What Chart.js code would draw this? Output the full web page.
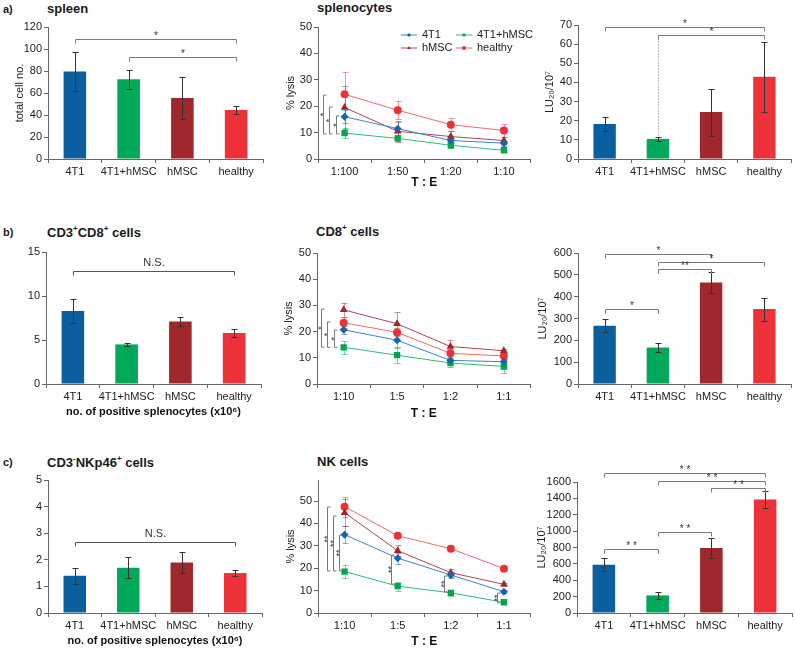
<!DOCTYPE html>
<html>
<head>
<meta charset="utf-8">
<script src="https://cdn.jsdelivr.net/npm/chart.js@4.4.0/dist/chart.umd.min.js"></script>
<style>
  body { margin: 0; background: #fff; width: 795px; height: 649px; position: relative; overflow: hidden; font-family: "Liberation Sans", Arial, sans-serif; color: #222; }
  canvas { position: absolute; }
  .lbl { position: absolute; font-weight: bold; white-space: nowrap; line-height: 1; color: #1a1a1a; }
  .tag { font-size: 11px; }
  .ttl { font-size: 13px; }
  .lbl sup { font-size: 8px; line-height: 0; position: relative; top: -1px; }
</style>
</head>
<body>
<div class="lbl tag" style="left:3px;top:4px">a)</div>
<div class="lbl ttl" style="left:47px;top:2px">spleen</div>
<div class="lbl ttl" style="left:317px;top:1px">splenocytes</div>
<div class="lbl tag" style="left:3px;top:227px">b)</div>
<div class="lbl ttl" style="left:47px;top:226px">CD3<sup>+</sup>CD8<sup>+</sup> cells</div>
<div class="lbl ttl" style="left:316px;top:225px">CD8<sup>+</sup> cells</div>
<div class="lbl tag" style="left:3px;top:457px">c)</div>
<div class="lbl ttl" style="left:47px;top:456px">CD3<sup>-</sup>NKp46<sup>+</sup> cells</div>
<div class="lbl ttl" style="left:317px;top:455px">NK cells</div>
<script>
// categories
const groups = ["4T1", "4T1+hMSC", "hMSC", "healthy"];
const ratiosSpleno = ["1:100", "1:50", "1:20", "1:10"];
const ratiosCells = ["1:10", "1:5", "1:2", "1:1"];

// a) spleen
const spleenCells = [79.5, 72.5, 55.5, 44.5];
const spleenCellsErr = [18, 8.5, 19.5, 4];
const splenoLysis4T1 = [16, 11.5, 7, 6];
const splenoLysis4T1Err = [2.5, 2.5, 1, 1];
const splenoLysisCo = [9.8, 7.8, 5.2, 3.3];
const splenoLysisCoErr = [1.8, 1, 1, 0.8];
const splenoLysisHMSC = [19.5, 10.5, 8.5, 7];
const splenoLysisHMSCErr = [8, 4, 2, 1.5];
const splenoLysisHealthy = [24.5, 18.5, 13, 10.8];
const splenoLysisHealthyErr = [8.5, 3.5, 2.5, 2.3];
const splenoLU = [18.3, 10.5, 24.5, 43];
const splenoLUErr = [3.5, 1.2, 12.3, 18.3];

// b) CD8+
const cd8Cells = [8.3, 4.5, 7.1, 5.8];
const cd8CellsErr = [1.35, 0.15, 0.5, 0.5];
const cd8Lysis4T1 = [20.7, 16.7, 9, 8.5];
const cd8Lysis4T1Err = [1.5, 2.5, 1, 1];
const cd8LysisCo = [14, 11, 8, 6.7];
const cd8LysisCoErr = [2.6, 2.8, 1.5, 2.5];
const cd8LysisHMSC = [28.3, 23, 14.3, 12.7];
const cd8LysisHMSCErr = [2.8, 4.3, 2.5, 0.5];
const cd8LysisHealthy = [23.4, 19.7, 11.7, 10.7];
const cd8LysisHealthyErr = [2, 1.5, 1.5, 1];
const cd8LU = [267, 167, 465, 343];
const cd8LUErr = [30, 20, 50, 53];

// c) NK
const nkCells = [1.4, 1.7, 1.9, 1.5];
const nkCellsErr = [0.3, 0.4, 0.4, 0.1];
const nkLysis4T1 = [35, 24.5, 17, 9.5];
const nkLysis4T1Err = [3.7, 2.5, 1.5, 0.6];
const nkLysisCo = [18.5, 12, 9, 4.8];
const nkLysisCoErr = [3, 2, 1.3, 0.6];
const nkLysisHMSC = [44.8, 27.8, 18, 12.8];
const nkLysisHMSCErr = [6, 2.5, 1.8, 0.6];
const nkLysisHealthy = [47.5, 34.5, 28.7, 19.8];
const nkLysisHealthyErr = [4.5, 0.6, 0.8, 0.6];
const nkLU = [590, 215, 795, 1385];
const nkLUErr = [80, 45, 120, 100];

// significance marks (value space)
const sigSpleenCells = [{ a: 0, b: 3, y: 109, label: "*" }, { a: 1, b: 3, y: 93, label: "*" }];
const sigSplenoLysis = [
  { cat: 0, dx: -22, lo: 9.5, hi: 24.2, label: "*" },
  { cat: 0, dx: -16, lo: 9.5, hi: 19.7, label: "*" },
  { cat: 0, dx: -9, lo: 9.5, hi: 16.3, label: "*" },
];
const sigSplenoLU = [{ a: 0, b: 3, y: 69, label: "*" }, { a: 1, b: 3, y: 64.6, label: "*", drop: 11.7 }];
const sigCd8Cells = [{ a: 0, b: 3, y: 12.8, label: "N.S." }];
const sigCd8Lysis = [
  { cat: 0, dx: -23, lo: 14.1, hi: 28.6, label: "*" },
  { cat: 0, dx: -17, lo: 14, hi: 23.7, label: "*" },
  { cat: 0, dx: -10, lo: 14, hi: 20.6, label: "*" },
];
const sigCd8LU = [
  { a: 0, b: 2, y: 595, label: "*" },
  { a: 1, b: 3, y: 559, label: "*" },
  { a: 1, b: 2, y: 527, label: "**" },
  { a: 0, b: 1, y: 343, label: "*" },
];
const sigNkCells = [{ a: 0, b: 3, y: 2.67, label: "N.S." }];
const sigNkLysis = [
  { cat: 0, dx: -18, lo: 18.8, hi: 47.3, label: "**" },
  { cat: 0, dx: -12, lo: 18.8, hi: 43.3, label: "**" },
  { cat: 0, dx: -6, lo: 18.8, hi: 34.8, label: "**" },
  { cat: 1, dx: -7, lo: 12.9, hi: 25.9, label: "**" },
  { cat: 2, dx: -7, lo: 9.4, hi: 16.5, label: "**" },
  { cat: 3, dx: -7, lo: 4.5, hi: 8.9, label: "**" },
];
const sigNkLU = [
  { a: 0, b: 3, y: 1710, label: "* *" },
  { a: 1, b: 3, y: 1612, label: "* *" },
  { a: 2, b: 3, y: 1526, label: "* *" },
  { a: 1, b: 2, y: 989, label: "* *" },
  { a: 0, b: 1, y: 781, label: "* *" },
];

const barColors = ["#0b5f9f", "#00a85a", "#a0282c", "#ec3139"];
const axisColor = "#666";
const textColor = "#222";
const bracketColor = "#7a7a7a";

//series look for the lysis panels
const lineLook = [
  { label: "4T1", line: "#3a86c8", point: "#1565a8", err: "rgba(40,110,180,0.55)", style: "rectRot", r: 4 },
  { label: "4T1+hMSC", line: "#2fbf72", point: "#00a651", err: "rgba(0,166,81,0.5)", style: "rect", r: 4.5 },
  { label: "hMSC", line: "#b0474a", point: "#a0282c", err: "rgba(160,40,44,0.5)", style: "triangle", r: 4.5 },
  { label: "healthy", line: "#f26a6d", point: "#ec3139", err: "rgba(236,49,57,0.5)", style: "circle", r: 4 },
];

//draws error bars, brackets and the inset legend
const annot = {
  id: "annot",
  beforeDatasetsDraw(chart, args, o) {
    if (o.errBehind) drawErrors(chart);
  },
  afterDatasetsDraw(chart, args, o) {
    if (!o.errBehind) drawErrors(chart);
    const ctx = chart.ctx, x = chart.scales.x, y = chart.scales.y;
    ctx.save();
    ctx.strokeStyle = o.bracketColor || bracketColor;
    ctx.fillStyle = "#333";
    ctx.lineWidth = 1;
    (o.hBrackets || []).forEach(b => {
      const x1 = Math.round(x.getPixelForValue(b.a)) + 0.5;
      const x2 = Math.round(x.getPixelForValue(b.b)) + 0.5;
      const yy = Math.round(y.getPixelForValue(b.y)) + 0.5;
      ctx.beginPath();
      ctx.moveTo(x1, yy + 4); ctx.lineTo(x1, yy); ctx.lineTo(x2, yy); ctx.lineTo(x2, yy + 4);
      ctx.stroke();
      if (b.drop !== undefined) {
        ctx.save();
        ctx.setLineDash([1, 2]);
        ctx.beginPath();
        ctx.moveTo(x1, yy); ctx.lineTo(x1, y.getPixelForValue(b.drop));
        ctx.stroke();
        ctx.restore();
      }
      const ns = b.label.length > 3;
      ctx.font = ns ? "11px 'Liberation Sans', Arial" : "10px 'Liberation Sans', Arial";
      ctx.textAlign = "center";
      ctx.textBaseline = "alphabetic";
      ctx.fillText(b.label, (x1 + x2) / 2, yy - (ns ? 6 : 1));
    });
    (o.vBrackets || []).forEach(b => {
      const cx = Math.round(x.getPixelForValue(b.cat) + b.dx) + 0.5;
      const y1 = y.getPixelForValue(b.hi), y2 = y.getPixelForValue(b.lo);
      ctx.beginPath();
      ctx.moveTo(cx + 3, y1); ctx.lineTo(cx, y1); ctx.lineTo(cx, y2); ctx.lineTo(cx + 3, y2);
      ctx.stroke();
      ctx.save();
      ctx.translate(cx - 3, (y1 + y2) / 2);
      ctx.rotate(-Math.PI / 2);
      ctx.font = "9px 'Liberation Sans', Arial";
      ctx.textAlign = "center";
      ctx.textBaseline = "middle";
      ctx.fillText(b.label, 0, 3);
      ctx.restore();
    });
    if (o.legend) {
      const area = chart.chartArea;
      ctx.font = "11px 'Liberation Sans', Arial";
      ctx.textAlign = "left";
      ctx.textBaseline = "middle";
      chart.data.datasets.forEach((ds, i) => {
        const lx = area.left + [83, 138][i % 2];
        const ly = area.top + [8, 21][Math.floor(i / 2)];
        ctx.strokeStyle = ds.borderColor;
        ctx.beginPath();
        ctx.moveTo(lx, ly); ctx.lineTo(lx + 16, ly);
        ctx.stroke();
        ctx.fillStyle = ds.backgroundColor;
        Chart.helpers.drawPoint(ctx, { pointStyle: ds.pointStyle, radius: 2, rotation: 0, borderWidth: 0 }, lx + 8, ly);
        ctx.fillStyle = textColor;
        ctx.fillText(ds.label, lx + 21, ly);
      });
    }
    ctx.restore();
  },
};

function drawErrors(chart) {
  const ctx = chart.ctx, y = chart.scales.y;
  ctx.save();
  ctx.lineWidth = 1;
  chart.data.datasets.forEach((ds, di) => {
    if (!ds.errors) return;
    chart.getDatasetMeta(di).data.forEach((el, i) => {
      const v = ds.data[i], e = ds.errors[i];
      const px = Math.round(el.x) + 0.5;
      const y1 = Math.round(y.getPixelForValue(v + e)) + 0.5;
      const y2 = Math.round(y.getPixelForValue(v - e)) + 0.5;
      ctx.strokeStyle = ds.errorColor;
      ctx.beginPath();
      ctx.moveTo(px, y1); ctx.lineTo(px, y2);
      ctx.moveTo(px - 3, y1); ctx.lineTo(px + 3, y1);
      ctx.moveTo(px - 3, y2); ctx.lineTo(px + 3, y2);
      ctx.stroke();
    });
  });
  ctx.restore();
}

// canvas frames and plot areas in page pixels
const frames = {
  a1: { cx: 0, cy: 0, w: 270, h: 195, L: 48, R: 263, T: 27, B: 159 },
  a2: { cx: 270, cy: 0, w: 265, h: 195, L: 318, R: 532, T: 27, B: 159 },
  a3: { cx: 530, cy: 0, w: 265, h: 195, L: 578, R: 791, T: 25, B: 159 },
  b1: { cx: 0, cy: 205, w: 270, h: 220, L: 46, R: 261, T: 252, B: 384 },
  b2: { cx: 270, cy: 205, w: 265, h: 220, L: 317, R: 531, T: 253, B: 384 },
  b3: { cx: 530, cy: 205, w: 265, h: 220, L: 578, R: 791, T: 253, B: 384 },
  c1: { cx: 0, cy: 430, w: 270, h: 219, L: 48, R: 262, T: 480, B: 613 },
  c2: { cx: 270, cy: 430, w: 265, h: 219, L: 318, R: 532, T: 480, B: 613 },
  c3: { cx: 530, cy: 430, w: 265, h: 219, L: 577, R: 792, T: 482, B: 613 },
};

function makeChart(f, cfg) {
  const c = document.createElement("canvas");
  c.width = f.w; c.height = f.h;
  c.style.left = f.cx + "px"; c.style.top = f.cy + "px";
  c.style.width = f.w + "px"; c.style.height = f.h + "px";
  document.body.appendChild(c);
  const yw = f.L - f.cx, xh = f.cy + f.h - f.B;
  return new Chart(c, {
    type: cfg.type,
    data: { labels: cfg.labels, datasets: cfg.datasets },
    plugins: [annot],
    options: {
      responsive: false,
      animation: false,
      events: [],
      layout: { padding: { left: 0, top: f.T - f.cy, right: f.cx + f.w - f.R, bottom: 0 } },
      plugins: { legend: { display: false }, tooltip: { enabled: false }, annot: cfg.annot },
      scales: {
        x: {
          offset: true,
          grid: { offset: true, drawOnChartArea: false, drawTicks: true, tickLength: 4, color: axisColor },
          border: { color: axisColor },
          ticks: { font: { size: 11, family: "'Liberation Sans', Arial" }, color: textColor, padding: 2, maxRotation: 0, autoSkip: false },
          title: cfg.xTitle ? {
            display: true, text: cfg.xTitle.text, color: "#111",
            font: { size: cfg.xTitle.size, weight: "bold", family: "'Liberation Sans', Arial" },
            padding: { top: 0, bottom: cfg.xTitle.pb },
          } : { display: false },
          afterFit: s => { s.height = xh; },
        },
        y: {
          min: 0,
          max: cfg.yMax,
          grid: { drawOnChartArea: false, tickLength: 4, color: axisColor },
          border: { color: axisColor },
          ticks: {
            stepSize: cfg.yStep, font: { size: 11, family: "'Liberation Sans', Arial" }, color: textColor, padding: 2,
            callback: v => String(v),
          },
          title: cfg.yTitle ? {
            display: true, text: cfg.yTitle.text, color: textColor,
            font: { size: 11, family: "'Liberation Sans', Arial" },
            padding: { top: cfg.yTitle.x - 6.6, bottom: 0 },
          } : { display: false },
          afterBuildTicks: s => { s.ticks = s.ticks.filter(t => Math.abs(t.value / cfg.yStep - Math.round(t.value / cfg.yStep)) < 1e-6); },
          afterFit: s => { s.width = yw; },
        },
      },
    },
  });
}

function barSet(values, errors) {
  return [{
    data: values,
    errors: errors,
    errorColor: "#333",
    backgroundColor: barColors,
    barPercentage: 0.42,
    categoryPercentage: 1,
  }];
}

function lineSets(series) {
  return series.map((s, i) => ({
    label: lineLook[i].label,
    data: s[0],
    errors: s[1],
    errorColor: lineLook[i].err,
    borderColor: lineLook[i].line,
    backgroundColor: lineLook[i].point,
    pointBackgroundColor: lineLook[i].point,
    pointBorderColor: lineLook[i].point,
    pointStyle: lineLook[i].style,
    pointRadius: lineLook[i].r,
    pointBorderWidth: 0,
    borderWidth: 1,
  }));
}

const luTitle = "LU\u2082\u2080/10\u2077";
const countTitle = "no. of positive splenocytes (x10\u2076)";

// a)
makeChart(frames.a1, {
  type: "bar", labels: groups, datasets: barSet(spleenCells, spleenCellsErr),
  yMax: 120, yStep: 20, yTitle: { text: "total cell no.", x: 20 },
  annot: { hBrackets: sigSpleenCells },
});
makeChart(frames.a2, {
  type: "line", labels: ratiosSpleno,
  datasets: lineSets([[splenoLysis4T1, splenoLysis4T1Err], [splenoLysisCo, splenoLysisCoErr], [splenoLysisHMSC, splenoLysisHMSCErr], [splenoLysisHealthy, splenoLysisHealthyErr]]),
  yMax: 50, yStep: 10, yTitle: { text: "% lysis", x: 20.5 }, xTitle: { text: "T : E", size: 12, pb: 4.8 },
  annot: { errBehind: true, vBrackets: sigSplenoLysis, legend: true },
});
makeChart(frames.a3, {
  type: "bar", labels: groups, datasets: barSet(splenoLU, splenoLUErr),
  yMax: 70, yStep: 10, yTitle: { text: luTitle, x: 20 },
  annot: { hBrackets: sigSplenoLU },
});

// b)
makeChart(frames.b1, {
  type: "bar", labels: groups, datasets: barSet(cd8Cells, cd8CellsErr),
  yMax: 15, yStep: 5, xTitle: { text: countTitle, size: 11, pb: 6.4 },
  annot: { hBrackets: sigCd8Cells, bracketColor: "#555" },
});
makeChart(frames.b2, {
  type: "line", labels: ratiosCells,
  datasets: lineSets([[cd8Lysis4T1, cd8Lysis4T1Err], [cd8LysisCo, cd8LysisCoErr], [cd8LysisHMSC, cd8LysisHMSCErr], [cd8LysisHealthy, cd8LysisHealthyErr]]),
  yMax: 50, yStep: 10, yTitle: { text: "% lysis", x: 19 }, xTitle: { text: "T : E", size: 12, pb: 3.8 },
  annot: { errBehind: true, vBrackets: sigCd8Lysis },
});
makeChart(frames.b3, {
  type: "bar", labels: groups, datasets: barSet(cd8LU, cd8LUErr),
  yMax: 600, yStep: 100, yTitle: { text: luTitle, x: 12.5 },
  annot: { hBrackets: sigCd8LU },
});

// c)
makeChart(frames.c1, {
  type: "bar", labels: groups, datasets: barSet(nkCells, nkCellsErr),
  yMax: 5, yStep: 1, xTitle: { text: countTitle, size: 11, pb: 1.4 },
  annot: { hBrackets: sigNkCells, bracketColor: "#555" },
});
makeChart(frames.c2, {
  type: "line", labels: ratiosCells,
  datasets: lineSets([[nkLysis4T1, nkLysis4T1Err], [nkLysisCo, nkLysisCoErr], [nkLysisHMSC, nkLysisHMSCErr], [nkLysisHealthy, nkLysisHealthyErr]]),
  yMax: 59.4, yStep: 10, yTitle: { text: "% lysis", x: 21 }, xTitle: { text: "T : E", size: 12, pb: 0 },
  annot: { errBehind: true, vBrackets: sigNkLysis },
});
makeChart(frames.c3, {
  type: "bar", labels: groups, datasets: barSet(nkLU, nkLUErr),
  yMax: 1600, yStep: 200, yTitle: { text: luTitle, x: 12 },
  annot: { hBrackets: sigNkLU },
});
</script>
</body>
</html>
